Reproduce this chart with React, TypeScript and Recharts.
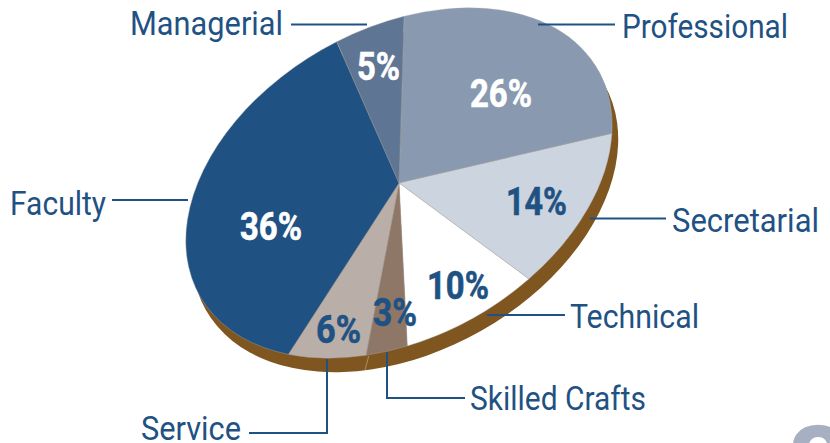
import { PieChart, Pie, Cell, Sector } from 'recharts';

const CATEGORIES = ['Professional', 'Secretarial', 'Technical', 'Skilled Crafts', 'Service', 'Faculty', 'Managerial'];
// slice sizes as drawn, the printed labels are rounded
const SHARES = [25.4, 13.8, 9.8, 3.1, 6.2, 36.6, 5.1];
const PCT_LABELS = ['26%', '14%', '10%', '3%', '6%', '36%', '5%'];
const COLORS = ['#8999B0', '#CCD5DF', '#FFFFFF', '#8E7766', '#B9AEA8', '#1F5283', '#5F7594'];
const PCT_COLORS = ['#FFFFFF', '#1F5283', '#1F5283', '#1F5283', '#1F5283', '#FFFFFF', '#FFFFFF'];

const BLUE = '#1F5283';
const BROWN = '#7F5620';
const FONT = 'Roboto, sans-serif';

const CX = 399;
const CY = 183;
// unit pie of radius 100, squashed and tilted to look like the 3d one
const TILT = 'matrix(1.993 -1.128 0.758 1.340 0 0)';
const tiltAt = (x: number, y: number) => `translate(${x} ${y}) ${TILT} translate(${-CX} ${-CY})`;

// label placement: [x, baseline, width]
const NAME_POS = [
  [622, 38, 166],
  [672, 232, 147],
  [570, 328, 129],
  [470, 410, 176],
  [141, 440, 100],
  [10, 215, 96],
  [130, 35, 153],
];
const PCT_POS = [
  [470, 107, 62],
  [506, 215, 61],
  [427, 299, 62],
  [373, 326, 44],
  [316, 343, 45],
  [240, 240, 62],
  [357, 80, 43],
];
const LEADERS = [
  '538,24.5 615,24.5',
  '590,218.5 666,218.5',
  '487,315 565,315',
  '387,352 387,398 465,398',
  '327,359 327,433 249,433',
  '112,200 188,200',
  '291,24.5 367,24.5',
];

const renderSlice = (props: any) => (
  <Sector {...props} transform={tiltAt(CX, CY)} vectorEffect="non-scaling-stroke" />
);
const renderShadow = (props: any) => (
  <Sector {...props} transform={tiltAt(CX + 6, CY + 14)} />
);

const renderLabel = ({ index }: any) => {
  const [nx, ny, nw] = NAME_POS[index];
  const [px, py, pw] = PCT_POS[index];
  return (
    <g key={index}>
      {index === 3 && <line x1={368.7} y1={356} x2={365} y2={370} stroke="#B9A58A" strokeWidth={0.7} />}
      <polyline points={LEADERS[index]} fill="none" stroke={BLUE} strokeWidth={2} />
      <text x={nx} y={ny} fontFamily={FONT} fontSize={33} fill={BLUE} textLength={nw} lengthAdjust="spacingAndGlyphs">
        {CATEGORIES[index]}
      </text>
      <text
        x={px}
        y={py}
        fontFamily={FONT}
        fontSize={38}
        fontWeight="bold"
        fill={PCT_COLORS[index]}
        stroke={PCT_COLORS[index]}
        strokeWidth={0.6}
        textLength={pw}
        lengthAdjust="spacingAndGlyphs"
      >
        {PCT_LABELS[index]}
      </text>
    </g>
  );
};

export default function App() {
  const data = CATEGORIES.map((name, i) => ({ name, value: SHARES[i] }));

  return (
    <div style={{ position: 'absolute', left: 0, top: 0, width: 830, height: 443, overflow: 'hidden', background: '#fff' }}>
      <PieChart width={830} height={443} margin={{ top: 0, right: 0, bottom: 0, left: 0 }}>
        <Pie
          data={[{ value: 100 }]}
          dataKey="value"
          cx={CX}
          cy={CY}
          outerRadius={100}
          stroke="none"
          fill={BROWN}
          shape={renderShadow}
          isAnimationActive={false}
        />
        <Pie
          data={data}
          dataKey="value"
          cx={CX}
          cy={CY}
          outerRadius={100}
          startAngle={67.8}
          endAngle={-292.2}
          stroke="#a8a8a8"
          strokeWidth={0.4}
          shape={renderSlice}
          label={renderLabel}
          labelLine={false}
          isAnimationActive={false}
        >
          {data.map((d, i) => (
            <Cell key={d.name} fill={COLORS[i]} />
          ))}
        </Pie>
      </PieChart>
      <div style={{ position: 'absolute', left: 786, top: 411, fontFamily: FONT, fontWeight: 'bold', fontSize: 112, lineHeight: '112px', color: '#A7B0C2' }}>
        8
      </div>
    </div>
  );
}
